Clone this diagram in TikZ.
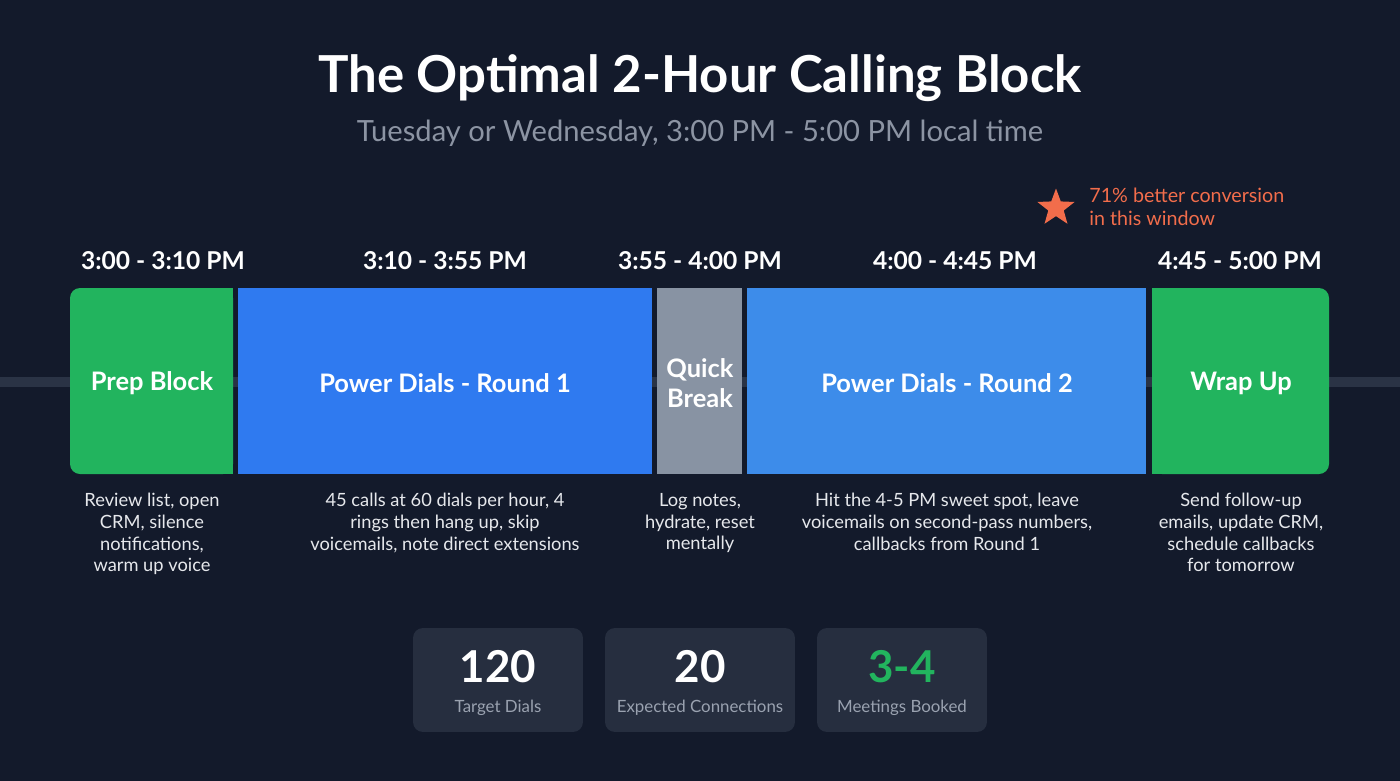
\documentclass[tikz,border=0pt]{standalone}
\usepackage{fontspec}
\setmainfont{Lato}
\usetikzlibrary{shapes.geometric}

\definecolor{bgnavy}{HTML}{131A2B}
\definecolor{prepgreen}{HTML}{22B45E}
\definecolor{dialblue}{HTML}{2F7AF0}
\definecolor{dialbluetwo}{HTML}{3D8CEA}
\definecolor{breakgray}{HTML}{8893A3}
\definecolor{railgray}{HTML}{2A3345}
\definecolor{subgray}{HTML}{8C94A3}
\definecolor{notecoral}{HTML}{F26D4B}
\definecolor{statbg}{HTML}{262E3F}
\definecolor{statgray}{HTML}{9AA2B0}
\definecolor{desctext}{HTML}{E6E8EC}

\tikzset{
  slot/.style={inner sep=0pt, text=white, align=center, font=\bfseries\fontsize{14.5}{17}\selectfont},
  slottime/.style={inner sep=0pt, text=white, font=\bfseries\fontsize{14}{16}\selectfont},
  desc/.style={inner sep=0pt, anchor=north, text=desctext, align=center, font=\fontsize{10.4}{12.3}\selectfont},
  statbox/.style={fill=statbg, rounded corners=0.2cm, minimum height=2.08cm, inner sep=0pt},
  statnum/.style={inner sep=0pt, font=\bfseries\fontsize{25}{30}\selectfont, text=white},
  statlabel/.style={inner sep=0pt, font=\fontsize{9.6}{11}\selectfont, text=statgray}
}

\begin{document}
\begin{tikzpicture}[x=0.02cm,y=-0.02cm]
\fill[bgnavy] (0,0) rectangle (1400,781);
\useasboundingbox (0,0) rectangle (1400,781);

\node[inner sep=0pt, text=white, font=\bfseries\fontsize{29}{33}\selectfont] (title) at (700,78) {The Optimal 2-Hour Calling Block};
\node[inner sep=0pt, text=subgray, font=\fontsize{16.6}{19}\selectfont] (subtitle) at (700,133) {Tuesday or Wednesday, 3:00 PM - 5:00 PM local time};

\node[star, star points=5, star point ratio=2.4, fill=notecoral, minimum size=0.78cm, inner sep=0pt] (star) at (1056,208) {};
\node[inner sep=0pt, anchor=west, text=notecoral, align=left, font=\fontsize{11.2}{13}\selectfont] (note) at (1089,207) {71\% better conversion\\in this window};

\draw[railgray, line width=0.2cm] (0,382) -- (1400,382);

\fill[prepgreen, rounded corners=0.2cm] (70,288) rectangle (233,474);
\fill[prepgreen] (150,288) rectangle (233,474);
\fill[dialblue] (238,288) rectangle (652,474);
\fill[breakgray] (657,288) rectangle (742,474);
\fill[dialbluetwo] (747,288) rectangle (1146,474);
\fill[prepgreen, rounded corners=0.2cm] (1152,288) rectangle (1329,474);
\fill[prepgreen] (1152,288) rectangle (1240,474);

\node[slottime] (t1) at (163,261) {3:00 - 3:10 PM};
\node[slottime] (t2) at (445,261) {3:10 - 3:55 PM};
\node[slottime] (t3) at (700,261) {3:55 - 4:00 PM};
\node[slottime] (t4) at (955,261) {4:00 - 4:45 PM};
\node[slottime] (t5) at (1240,261) {4:45 - 5:00 PM};

\node[slot] (prep) at (152,383) {Prep Block};
\node[slot] (round1) at (445,383) {Power Dials - Round 1};
\node[slot] (pause) at (700,383) {Quick\\Break};
\node[slot] (round2) at (947,383) {Power Dials - Round 2};
\node[slot] (wrap) at (1241,383) {Wrap Up};

\node[desc] (prepdesc) at (152,493) {Review list, open\\CRM, silence\\notifications,\\warm up voice};
\node[desc] (round1desc) at (445,493) {45 calls at 60 dials per hour, 4\\rings then hang up, skip\\voicemails, note direct extensions};
\node[desc] (pausedesc) at (700,493) {Log notes,\\hydrate, reset\\mentally};
\node[desc] (round2desc) at (947,493) {Hit the 4-5 PM sweet spot, leave\\voicemails on second-pass numbers,\\callbacks from Round 1};
\node[desc] (wrapdesc) at (1241,493) {Send follow-up\\emails, update CRM,\\schedule callbacks\\for tomorrow};

\node[statbox, minimum width=3.4cm] (dials) at (498,680) {};
\node[statbox, minimum width=3.8cm] (connects) at (700,680) {};
\node[statbox, minimum width=3.4cm] (meetings) at (902,680) {};
\node[statnum] (dialsnum) at (498,667) {120};
\node[statnum] (connectsnum) at (700,667) {20};
\node[statnum, text=prepgreen] (meetingsnum) at (902,667) {3-4};
\node[statlabel] (dialslabel) at (498,708) {Target Dials};
\node[statlabel] (connectslabel) at (700,708) {Expected Connections};
\node[statlabel] (meetingslabel) at (902,708) {Meetings Booked};
\end{tikzpicture}
\end{document}
